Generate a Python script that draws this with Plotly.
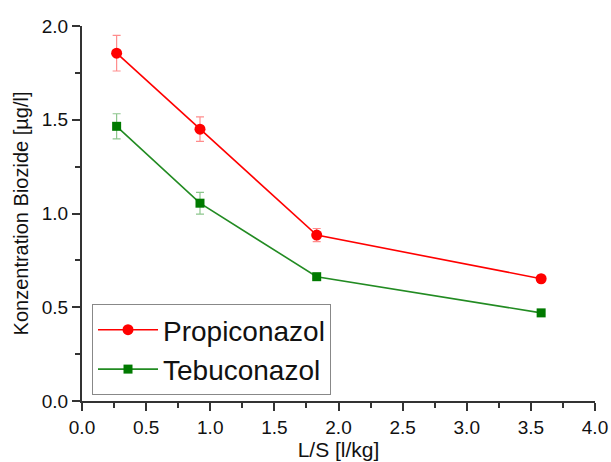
import plotly.graph_objects as go

ls_values = [0.27, 0.92, 1.83, 3.58]
propiconazol = [1.855, 1.45, 0.885, 0.652]
propiconazol_err = [0.095, 0.065, 0.035, 0.018]
tebuconazol = [1.465, 1.055, 0.663, 0.47]
tebuconazol_err = [0.067, 0.058, 0.01, 0.01]

x_ticks = [0.0, 0.5, 1.0, 1.5, 2.0, 2.5, 3.0, 3.5, 4.0]
y_ticks = [0.0, 0.5, 1.0, 1.5, 2.0]

font_family = "Arial, Liberation Sans, sans-serif"

fig = go.Figure()
fig.add_trace(go.Scatter(
    x=ls_values, y=propiconazol, name="Propiconazol", mode="lines+markers",
    line=dict(color="#ff0000", width=1.6),
    marker=dict(symbol="circle", size=11, color="#ff0000"),
    error_y=dict(type="data", array=propiconazol_err, visible=True,
                 color="rgba(255,0,0,0.45)", thickness=1.2, width=4),
))
fig.add_trace(go.Scatter(
    x=ls_values, y=tebuconazol, name="Tebuconazol", mode="lines+markers",
    line=dict(color="#228b22", width=1.6),
    marker=dict(symbol="square", size=9, color="#007a00"),
    error_y=dict(type="data", array=tebuconazol_err, visible=True,
                 color="rgba(0,128,0,0.45)", thickness=1.2, width=4),
))

axis_common = dict(
    showgrid=False, zeroline=False, showline=True, linecolor="#333333", linewidth=2,
    ticks="outside", ticklen=8, tickwidth=2, tickcolor="#333333",
    tickfont=dict(family=font_family, size=19, color="#111111"),
    minor=dict(ticks="outside", ticklen=5, tickwidth=1.5, tickcolor="#333333", showgrid=False),
    mirror=False, automargin=False,
)

fig.update_layout(
    width=611, height=462,
    margin=dict(l=82, r=16, t=26, b=61),
    paper_bgcolor="white", plot_bgcolor="white",
    font=dict(family=font_family, color="#111111"),
    xaxis=dict(range=[0, 4.0], tickvals=x_ticks, ticktext=[f"{v:.1f}" for v in x_ticks],
               title=dict(text="L/S [l/kg]", font=dict(size=21), standoff=4), **axis_common),
    yaxis=dict(range=[0, 2.0], tickvals=y_ticks, ticktext=[f"{v:.1f}" for v in y_ticks],
               title=dict(text="Konzentration Biozide [µg/l]", font=dict(size=20), standoff=8),
               **axis_common),
    legend=dict(x=0.0195, y=0.016, xanchor="left", yanchor="bottom",
                bgcolor="white", bordercolor="#888888", borderwidth=1,
                font=dict(family=font_family, size=28, color="#111111"),
                itemwidth=60, tracegroupgap=0),
    showlegend=True,
)
fig.update_xaxes(minor=dict(tickvals=[0.25, 0.75, 1.25, 1.75, 2.25, 2.75, 3.25, 3.75]))
fig.update_yaxes(minor=dict(tickvals=[0.25, 0.75, 1.25, 1.75]))

# remove the page's default body margin and scrollbars so the figure fills the window exactly
fig.write_html("out.html",
               config={"displayModeBar": False},
               post_script="document.body.style.margin='0';document.body.style.overflow='hidden';")
